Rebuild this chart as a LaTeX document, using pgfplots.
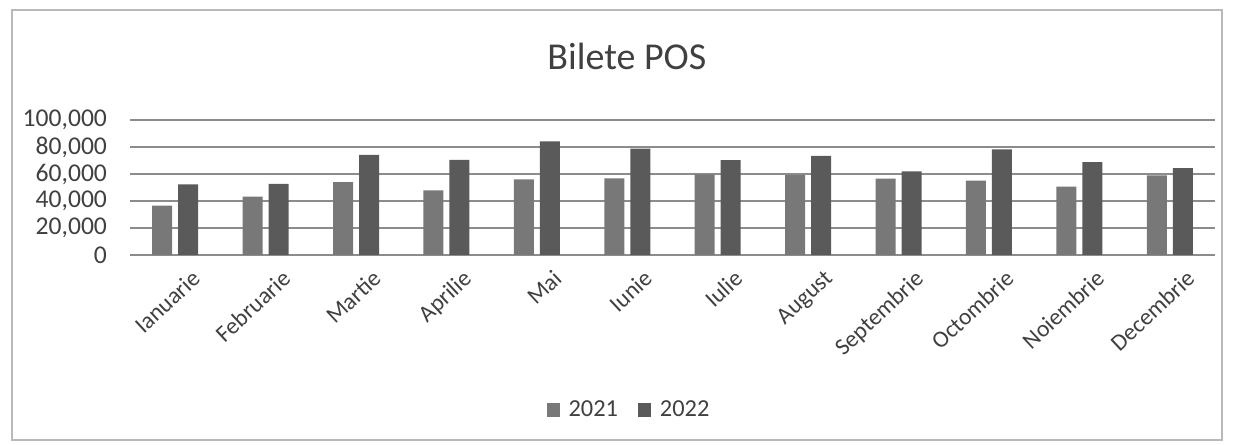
\documentclass[border=0pt]{standalone}
\usepackage{pgfplots}
\pgfplotsset{compat=1.18}
\usepackage{fontspec}
\setmainfont{Carlito}
\definecolor{bara}{HTML}{787878}
\definecolor{barb}{HTML}{5A5A5A}
\definecolor{gridc}{HTML}{8C8C8C}
\definecolor{txt}{HTML}{404040}
\begin{document}
\begin{tikzpicture}
\useasboundingbox (0pt,0pt) rectangle (617pt,222pt);
\draw[gray!55, line width=0.6pt] (6pt,2pt) rectangle (611pt,217pt);
\begin{axis}[
    at={(65pt,94.5pt)}, anchor=south west,
    scale only axis, width=542.5pt, height=67.5pt,
    xmin=-0.5, xmax=11.5, ymin=0, ymax=100000,
    ytick={0,20000,40000,60000,80000,100000},
    xtick=data,
    xticklabels={Ianuarie,Februarie,Martie,Aprilie,Mai,Iunie,Iulie,August,Septembrie,Octombrie,Noiembrie,Decembrie},
    xticklabel style={rotate=43, anchor=north east, font=\fontsize{11.8}{12}\selectfont, text=txt, inner sep=1pt, yshift=-9pt, xshift=2pt},
    yticklabel style={font=\fontsize{12.8}{13}\selectfont, text=txt, anchor=east, xshift=-8pt},
    /pgf/number format/.cd, fixed, 1000 sep={,}, assume math mode=true,
    /pgfplots/.cd,
    scaled y ticks=false,
    major tick length=0pt,
    axis line style={draw=none},
    ymajorgrids, major grid style={gridc, line width=0.6pt},
    title={Bilete POS},
    title style={at={(0.458,1.385)}, anchor=center, font=\fontsize{19}{20}\selectfont, text=txt},
    legend columns=2,
    legend style={at={(0.4608,-1.148)}, anchor=center, draw=none, fill=none,
        font=\fontsize{12.2}{13}\selectfont, text=txt,
        /tikz/every even column/.append style={column sep=8pt}},
    legend image code/.code={\fill[#1] (0pt,-3.3pt) rectangle (6.6pt,3.3pt); \path (9pt,0pt);},
]
\addplot[ybar, bar width=10pt, bar shift=-6.5pt, fill=bara, draw=none] coordinates {
    (0,36500) (1,43200) (2,54000) (3,47800) (4,56000) (5,56800)
    (6,59800) (7,59300) (8,56500) (9,55000) (10,50600) (11,59000)
};
\addlegendentry{2021}
\addplot[ybar, bar width=10pt, bar shift=6.5pt, fill=barb, draw=none] coordinates {
    (0,52300) (1,52600) (2,74200) (3,70400) (4,84200) (5,78800)
    (6,70200) (7,73500) (8,62000) (9,78300) (10,68800) (11,64400)
};
\addlegendentry{2022}
\end{axis}
\end{tikzpicture}
\end{document}
